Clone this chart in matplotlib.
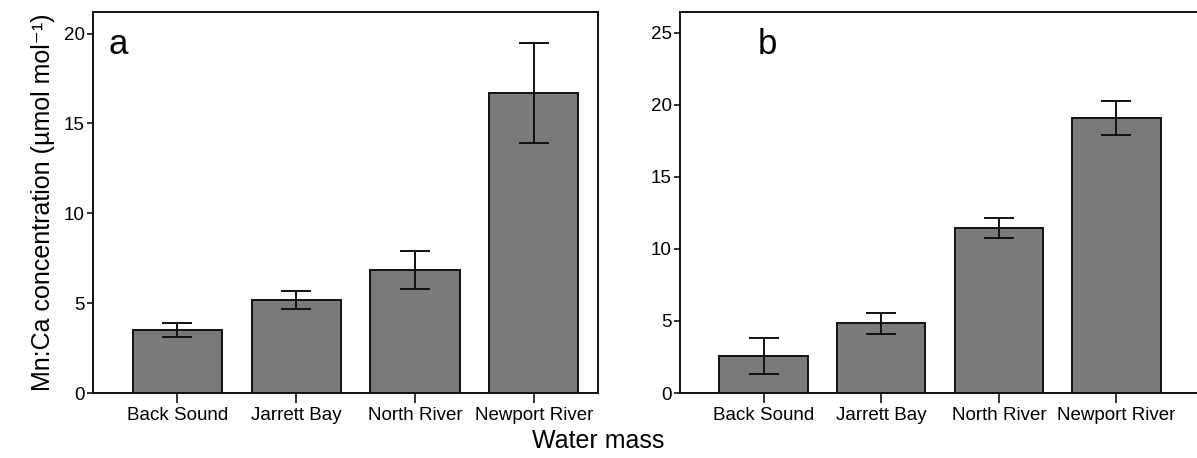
import matplotlib.pyplot as plt
import numpy as np

# Data
sites = ["Back Sound", "Jarrett Bay", "North River", "Newport River"]
mean_a = [3.5, 5.15, 6.85, 16.7]
err_a = [0.37, 0.5, 1.07, 2.8]
mean_b = [2.55, 4.85, 11.45, 19.1]
err_b = [1.25, 0.72, 0.68, 1.18]

plt.rcParams['font.family'] = ['Liberation Sans', 'DejaVu Sans']
tick_font = ['Liberation Sans Narrow', 'Liberation Sans', 'DejaVu Sans']

fig = plt.figure(figsize=(11.97, 4.58), dpi=100)
W, H = 1197, 458
ax_a = fig.add_axes([93 / W, 1 - 393 / H, (598 - 93) / W, (393 - 12) / H])
ax_b = fig.add_axes([680 / W, 1 - 393 / H, (1200 - 680) / W, (393 - 12) / H])

x = np.arange(len(sites))

def draw(ax, means, errs, ymax, yticks, label, lx, xlim_right):
    ax.bar(x, means, width=0.75, color='#7a7a7a', edgecolor='#111111', linewidth=1.4, zorder=2)
    ax.errorbar(x, means, yerr=errs, fmt='none', ecolor='#111111', elinewidth=1.4,
                capsize=11, capthick=1.4, zorder=3)
    ax.set_xlim(-0.71, xlim_right)
    ax.set_ylim(0, ymax)
    ax.set_yticks(yticks)
    ax.set_xticks(x)
    ax.set_xticklabels(sites, family=tick_font, fontsize=13.5)
    for t in ax.get_yticklabels():
        t.set_family(tick_font)
        t.set_fontsize(13.5)
    ax.tick_params(axis='both', direction='out', length=6, width=1.2, color='#111111')
    ax.tick_params(axis='x', length=7, pad=3)
    ax.tick_params(axis='y', length=4, pad=2)
    for s in ax.spines.values():
        s.set_linewidth(1.4)
        s.set_color('#111111')
    ax.text(lx, 0.915, label, transform=ax.transAxes, fontsize=25, va='center', ha='left')

draw(ax_a, mean_a, err_a, 21.2, [0, 5, 10, 15, 20], 'a', 0.03, 3.54)
draw(ax_b, mean_b, err_b, 26.45, [0, 5, 10, 15, 20, 25], 'b', 0.15, 3.71)

ax_a.set_ylabel('Mn:Ca concentration (µmol mol⁻¹)', fontsize=18, labelpad=6,
                family=['Liberation Sans', 'DejaVu Sans'])
fig.text(598 / W, 1 - 441 / H, 'Water mass', fontsize=18, ha='center', va='center')

fig.savefig('out.png', dpi=100)
